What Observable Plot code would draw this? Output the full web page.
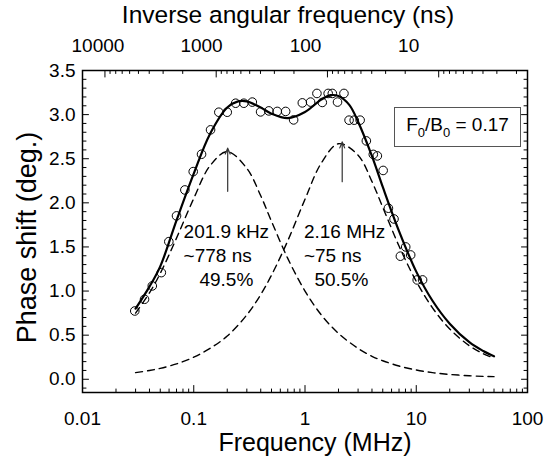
<!DOCTYPE html>
<html>
<head>
<meta charset="utf-8">
<script src="https://cdn.jsdelivr.net/npm/d3@7"></script>
<script src="https://cdn.jsdelivr.net/npm/@observablehq/plot@0.6"></script>
<style>
  body { margin: 0; background: #fff; }
  #wrap { position: relative; width: 560px; height: 466px; font-family: "Liberation Sans", Arial, sans-serif; }
  #legend { position: absolute; left: 394px; top: 107px; width: 127px; height: 40px; box-sizing: border-box;
    border: 1px solid #555; background: #fff; display: flex; align-items: center; justify-content: center;
    font-size: 19px; color: #000; white-space: nowrap; padding-bottom: 4px; }
  #legend .sub { font-size: 13px; position: relative; top: 6px; }
</style>
</head>
<body>
<div id="wrap">
  <div id="legend"><span>F<span class="sub">0</span>/B<span class="sub">0</span> = 0.17</span></div>
</div>
<script>
// ---- data ----
const dataFreq = [0.0295,0.0361,0.0424,0.0511,0.0597,0.0700,0.0832,0.0989,0.1175,0.1416,0.168,0.200,0.238,0.282,0.336,0.399,0.473,0.563,0.670,0.79,0.946,1.122,1.28,1.43,1.615,1.76,1.96,2.24,2.49,2.77,3.13,3.56,4.11,4.47,5.04,5.62,6.31,7.20,8.04,8.91,10.2,11.4];
const dataPhase = [0.774,0.907,1.058,1.209,1.560,1.852,2.146,2.354,2.551,2.827,3.027,3.027,3.129,3.129,3.142,3.031,3.042,3.036,3.036,2.94,3.133,3.142,3.240,3.138,3.240,3.240,3.142,3.240,2.937,2.937,2.937,2.702,2.549,2.532,2.367,1.939,1.817,1.395,1.500,1.409,1.126,1.126];

const fitFreq = [0.03,0.04,0.05,0.07,0.1,0.14,0.2,0.25,0.3,0.4,0.5,0.7,1,1.4,1.7,2,2.5,3,4,5,7,10,14,20,30,40,50];
const fitTotal = [0.80,1.05,1.28,1.80,2.33,2.78,3.08,3.15,3.15,3.08,3.01,2.96,3.03,3.17,3.22,3.21,3.11,2.92,2.53,2.18,1.68,1.22,0.89,0.63,0.42,0.32,0.26];

const peakFreq = [0.03,0.04,0.05,0.07,0.1,0.14,0.2,0.3,0.4,0.5,0.7,1,1.4,2,3,4,5,7,10,14,20,30,40,50];
const peakLow  = [0.75,0.98,1.20,1.60,2.05,2.42,2.58,2.39,2.08,1.79,1.37,1.00,0.73,0.52,0.35,0.26,0.21,0.15,0.105,0.075,0.055,0.04,0.033,0.03];
const peakHigh = [0.075,0.10,0.124,0.174,0.25,0.35,0.49,0.73,0.96,1.18,1.57,2.04,2.45,2.67,2.54,2.24,1.95,1.51,1.11,0.81,0.57,0.38,0.29,0.24];

const peakCenters = [0.2019, 2.16];
const arrowFrom = [2.13, 2.24];
const arrowTo = [2.62, 2.69];
const annotationText = ["201.9 kHz\n~778 ns\n\u00a0\u00a0\u00a049.5%", "2.16 MHz\n~75 ns\n\u00a0\u00a050.5%"];
const annotationFreq = [0.0810, 0.977];
const annotationPhase = [1.42, 1.42];

const xMajor = [0.01, 0.1, 1, 10, 100];
const xMajorLabels = ["0.01", "0.1", "1", "10", "100"];
const xMinor = [0.01, 0.1, 1, 10].flatMap(d => [2,3,4,5,6,7,8,9].map(k => k * d));
const yMajor = [0, 0.5, 1, 1.5, 2, 2.5, 3, 3.5];
const yMinor = [-0.1,0.1,0.2,0.3,0.4,0.6,0.7,0.8,0.9,1.1,1.2,1.3,1.4,1.6,1.7,1.8,1.9,2.1,2.2,2.3,2.4,2.6,2.7,2.8,2.9,3.1,3.2,3.3,3.4];

// top axis: inverse angular frequency tau (ns) = 1000 / (2 pi f[MHz])
const tauMajor = [10000, 1000, 100, 10];
const tauMinor = [1000, 100, 10, 1].flatMap(d => [2,3,4,5,6,7,8,9].map(k => k * d));
const tauLabels = ["10000", "1000", "100", "10"];
const tauLabelFreq = [0.01377, 0.1175, 1.01, 8.55];
const tauToFreq = t => 1000 / (2 * Math.PI * t);

// ---- tables ----
const points = dataFreq.map((f, i) => ({f, v: dataPhase[i]}));
const total = fitFreq.map((f, i) => ({f, v: fitTotal[i]}));
const low = peakFreq.map((f, i) => ({f, v: peakLow[i]}));
const high = peakFreq.map((f, i) => ({f, v: peakHigh[i]}));
const arrows = peakCenters.map((f, i) => ({f, a: arrowFrom[i], b: arrowTo[i]}));
const notes = annotationText.map((t, i) => ({t, f: annotationFreq[i], v: annotationPhase[i]}));

const tickShape = { draw(ctx, l) { ctx.moveTo(0, 0); ctx.lineTo(0, -l); } };
const ticks = (data, opts, len) => Plot.vector(data, {...opts, length: len, anchor: "start", shape: tickShape, stroke: "black", strokeWidth: 1});

const font = "'Liberation Sans', Arial, sans-serif";
const txt = {fill: "black", lineAnchor: "middle"};

const chart = Plot.plot({
  width: 560,
  height: 466,
  marginLeft: 82,
  marginRight: 33,
  marginTop: 70,
  marginBottom: 74,
  style: {fontFamily: font, background: "white", color: "black"},
  x: {type: "log", domain: [0.01, 100], axis: null},
  y: {domain: [-0.15, 3.5], axis: null},
  marks: [
    Plot.line(low, {x: "f", y: "v", stroke: "black", strokeWidth: 1.4, strokeDasharray: "7,5", curve: "catmull-rom"}),
    Plot.line(high, {x: "f", y: "v", stroke: "black", strokeWidth: 1.4, strokeDasharray: "7,5", curve: "catmull-rom"}),
    Plot.line(total, {x: "f", y: "v", stroke: "black", strokeWidth: 2.2, curve: "catmull-rom"}),
    Plot.dot(points, {x: "f", y: "v", r: 4.3, stroke: "black", strokeWidth: 1, fill: "none"}),
    Plot.arrow(arrows, {x1: "f", x2: "f", y1: "a", y2: "b", stroke: "#333", strokeWidth: 1.2, headLength: 8, headAngle: 45}),
    Plot.text(notes, {x: "f", y: "v", text: "t", textAnchor: "start", lineAnchor: "middle", lineHeight: 1.27, fontSize: 19, fill: "black"}),
    Plot.frame({stroke: "black", strokeWidth: 1.5}),
    // bottom ticks (inward)
    ticks(xMajor, {x: d => d, frameAnchor: "bottom", rotate: 0}, 7),
    ticks(xMinor, {x: d => d, frameAnchor: "bottom", rotate: 0}, 3.5),
    // left ticks
    ticks(yMajor, {y: d => d, frameAnchor: "left", rotate: 90}, 6),
    ticks(yMinor, {y: d => d, frameAnchor: "left", rotate: 90}, 3.5),
    // right ticks
    ticks(yMajor, {y: d => d, frameAnchor: "right", rotate: -90}, 6),
    ticks(yMinor, {y: d => d, frameAnchor: "right", rotate: -90}, 3.5),
    // top ticks (inverse angular frequency)
    ticks(tauMajor, {x: tauToFreq, frameAnchor: "top", rotate: 180}, 6.5),
    ticks(tauMinor.filter(t => tauToFreq(t) >= 0.01 && tauToFreq(t) <= 100), {x: tauToFreq, frameAnchor: "top", rotate: 180}, 3),
    // tick labels
    Plot.text(xMajor, {...txt, x: d => d, frameAnchor: "bottom", textAnchor: "middle", dy: 26, text: (d, i) => xMajorLabels[i], fontSize: 19}),
    Plot.text(yMajor, {...txt, y: d => d, frameAnchor: "left", dx: -7, textAnchor: "end", text: d => d.toFixed(1), fontSize: 19}),
    Plot.text(tauLabelFreq, {...txt, x: d => d, frameAnchor: "top", textAnchor: "middle", dy: -25, text: (d, i) => tauLabels[i], fontSize: 19}),
    // axis titles
    Plot.text(["Frequency (MHz)"], {...txt, frameAnchor: "bottom", textAnchor: "middle", dx: 10, dy: 50, text: d => d, fontSize: 25}),
    Plot.text(["Inverse angular frequency (ns)"], {...txt, frameAnchor: "top", textAnchor: "middle", dx: -17, dy: -55, text: d => d, fontSize: 24.5}),
    Plot.text(["Phase shift (deg.)"], {...txt, frameAnchor: "left", textAnchor: "middle", dx: -55, dy: 6, rotate: -90, text: d => d, fontSize: 27})
  ]
});

document.getElementById("wrap").prepend(chart);
</script>
</body>
</html>
